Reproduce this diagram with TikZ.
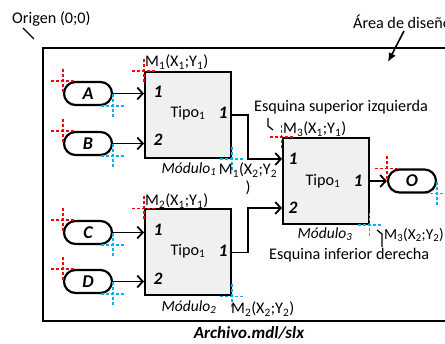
\documentclass[tikz,border=0pt]{standalone}
\usepackage{fontspec}
\setmainfont{Carlito}
\usetikzlibrary{arrows.meta,calc}
\definecolor{azulcruz}{RGB}{0,176,240}

\begin{document}
\begin{tikzpicture}[x=1pt, y=-1pt, >={Straight Barb[length=5.5pt,width=12pt]}]

% styles
\tikzset{
  modulo/.style={draw, line width=2pt, fill=black!6, minimum width=86pt, minimum height=86pt, inner sep=0pt},
  puerto/.style={draw, line width=2.2pt, rounded corners=11.5pt, minimum width=48pt, minimum height=23pt, inner sep=0pt, font=\fontsize{18}{18}\selectfont\bfseries\itshape},
  flecha/.style={->, line width=1.8pt},
  texto/.style={font=\fontsize{16.2}{18}\selectfont, inner sep=0pt},
  num/.style={font=\fontsize{17.5}{18}\selectfont\bfseries\itshape, inner sep=0pt},
  cruzroja/.style={red, line width=1.6pt, dash pattern=on 3pt off 2pt},
  cruzazul/.style={azulcruz, line width=1.6pt, dash pattern=on 3pt off 2pt},
  guia/.style={line width=1.3pt},
}

% page
\clip (0,0) rectangle (445,344);

% design area
\draw[line width=2pt] (43,48) rectangle (460,321);
\node[texto, anchor=west] (origen) at (12,19) {Origen (0;0)};
\coordinate (origen-a) at (23,28);
\coordinate (origen-b) at (34,39);
\draw[guia] (origen-a) -- (origen-b);
\node[texto, anchor=west] (area) at (353,22) {Área de diseño};
\coordinate (area-a) at (404,31);
\coordinate (area-b) at (388,62);
\draw[-{Latex[length=9pt,width=8pt]}, line width=1.6pt] (area-a) -- (area-b);

% inputs and output
\node[puerto] (A) at (88,93.5) {A};
\node[puerto] (B) at (88,143.5) {B};
\node[puerto] (C) at (88,232.5) {C};
\node[puerto] (D) at (88,281.5) {D};
\node[puerto] (O) at (412,181) {O};

% modules
\node[modulo] (mod1) at (188,115) {};
\node[modulo] (mod2) at (188,252.5) {};
\node[modulo] (mod3) at (325.5,181) {};

\node[texto] (tipo1) at (188,113) {Tipo\textsubscript{1}};
\node[texto] (tipo2) at (188,251) {Tipo\textsubscript{1}};
\node[texto] (tipo3) at (323,181) {Tipo\textsubscript{1}};

% port numbers
\node[num] (m1e1) at (158,92) {1};
\node[num] (m1e2) at (158,140) {2};
\node[num] (m1s1) at (223,113) {1};
\node[num] (m2e1) at (158,230) {1};
\node[num] (m2e2) at (158,279) {2};
\node[num] (m2s1) at (223,251) {1};
\node[num] (m3e1) at (293,159) {1};
\node[num] (m3e2) at (293,208) {2};
\node[num] (m3s1) at (358,181) {1};

% connections
\coordinate (m3in1) at (282,159);
\coordinate (m3in2) at (282,208);
\draw[flecha] (A) -- (A -| mod1.west);
\draw[flecha] (B) -- (B -| mod1.west);
\draw[flecha] (C) -- (C -| mod2.west);
\draw[flecha] (D) -- (D -| mod2.west);
\draw[flecha] (mod1.east) -- ++(16,0) |- (m3in1);
\draw[flecha] (mod2.east) -- ++(16,0) |- (m3in2);
\draw[flecha] (mod3.east) -- (O);

% corner marks
\foreach \n in {A,B,C,D,O,mod1,mod2,mod3}{
  \draw[cruzroja] (\n.north west) +(-12,0) -- +(12,0) +(0,-12) -- +(0,12);
  \draw[cruzazul] (\n.south east) +(-12,0) -- +(12,0) +(0,-12) -- +(0,12);
}

% labels
\node[texto, anchor=west] (m1xy1) at (145,62) {M\textsubscript{1}(X\textsubscript{1};Y\textsubscript{1})};
\node[texto, align=center] (m1xy2) at (248,179) {M\textsubscript{1}(X\textsubscript{2};Y\textsubscript{2}\\)};
\node[texto, anchor=west] (m2xy1) at (145,201) {M\textsubscript{2}(X\textsubscript{1};Y\textsubscript{1})};
\node[texto, anchor=west] (m2xy2) at (231,309) {M\textsubscript{2}(X\textsubscript{2};Y\textsubscript{2})};
\node[texto, anchor=west] (m3xy1) at (283,129) {M\textsubscript{3}(X\textsubscript{1};Y\textsubscript{1})};
\node[texto, anchor=west, font=\fontsize{15.3}{18}\selectfont] (m3xy2) at (384,235) {M\textsubscript{3}(X\textsubscript{2};Y\textsubscript{2})};
\node[texto, font=\fontsize{15.5}{18}\selectfont\itshape] (nom1) at (189,169) {Módulo\textsubscript{1}};
\node[texto, font=\fontsize{15.5}{18}\selectfont\itshape] (nom2) at (189,307) {Módulo\textsubscript{2}};
\node[texto, font=\fontsize{15.5}{18}\selectfont\itshape] (nom3) at (325,234) {Módulo\textsubscript{3}};
\node[texto, anchor=west] (sup) at (254,107) {Esquina superior izquierda};
\node[texto, anchor=west] (inf) at (269,255) {Esquina inferior derecha};
\node[font=\fontsize{17}{18}\selectfont\bfseries\itshape, inner sep=0pt] (archivo) at (249,333) {Archivo.mdl/slx};

% leader hooks
\coordinate (sup-a) at (268,118);
\coordinate (sup-b) at (268,126);
\coordinate (sup-c) at (273,130);
\draw[guia] (sup-a) -- (sup-b) -- (sup-c);
\coordinate (inf-a) at (377,230);
\coordinate (inf-b) at (382,234);
\coordinate (inf-c) at (382,247);
\draw[guia] (inf-a) -- (inf-b) -- (inf-c);

\end{tikzpicture}
\end{document}
